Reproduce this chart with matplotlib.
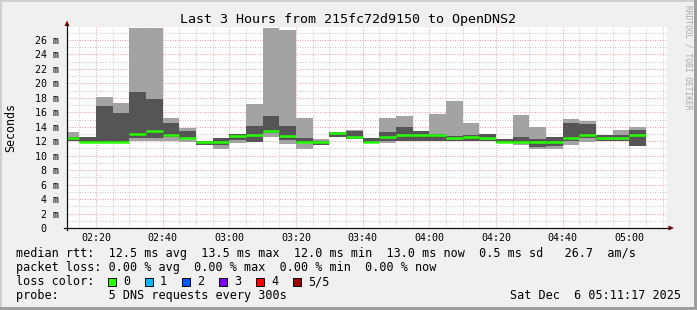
import matplotlib
matplotlib.use("Agg")
import matplotlib.pyplot as plt
import matplotlib.patches as mpatches
from matplotlib.lines import Line2D
from matplotlib.ticker import MultipleLocator, FuncFormatter
import numpy as np

# --- Chart text and data ---
title = "Last 3 Hours from 215fc72d9150 to OpenDNS2"
view_start = "02:11:17"
view_minutes = 180
first_bin = "02:10"
bin_minutes = 5

# 5 pings per step: outer smoke (light), inner smoke (dark), median (green)
light_lo = [12.0, 11.9, 11.85, 11.85, 12.1, 12.1, 12.0, 11.95, 11.45, 10.95,
            11.7, 11.9, 12.6, 11.65, 10.95, 11.5, 12.6, 12.3, 11.7, 11.7,
            12.0, 12.0, 12.0, 12.0, 12.0, 12.0, 11.8, 11.5, 10.95, 10.95,
            11.5, 11.95, 12.0, 12.0, 11.4]
dark_lo = [12.0, 11.9, 11.9, 11.9, 12.4, 12.4, 12.6, 12.3, 11.5, 11.45,
           12.15, 11.95, 13.15, 12.2, 11.7, 11.5, 12.65, 12.35, 11.7, 12.0,
           12.05, 12.05, 12.05, 12.05, 12.05, 12.05, 11.8, 11.8, 11.25, 11.35,
           12.05, 12.5, 12.05, 12.1, 11.4]
median = [12.4, 11.95, 11.95, 11.95, 13.0, 13.35, 12.9, 12.5, 11.85, 11.9,
          12.75, 12.9, 13.45, 12.75, 11.95, 11.9, 13.1, 12.65, 11.9, 12.65,
          12.9, 12.9, 12.9, 12.4, 12.65, 12.4, 11.9, 11.9, 11.9, 11.9,
          12.5, 12.9, 12.4, 12.5, 12.9]
dark_hi = [12.6, 12.55, 16.9, 15.95, 18.8, 17.85, 14.5, 13.45, 12.05, 12.5,
           12.95, 14.15, 15.5, 14.1, 12.5, 12.1, 13.25, 13.45, 12.5, 13.3,
           14.0, 13.4, 13.0, 12.7, 12.85, 12.95, 12.3, 12.6, 12.35, 12.55,
           14.55, 14.4, 12.85, 12.85, 13.55]
light_hi = [13.3, 12.6, 18.1, 17.3, 27.7, 27.7, 15.25, 13.85, 12.1, 12.5,
            13.0, 17.15, 27.7, 27.4, 15.2, 12.3, 13.3, 13.5, 12.5, 15.2,
            15.5, 13.45, 15.75, 17.6, 14.55, 12.95, 12.3, 15.65, 14.0, 12.6,
            15.05, 14.8, 12.85, 13.55, 13.95]

y_ticks = list(range(0, 27, 2))
y_label = "Seconds"

stats_lines = [
    "median rtt:  12.5 ms avg  13.5 ms max  12.0 ms min  13.0 ms now  0.5 ms sd   26.7  am/s",
    "packet loss: 0.00 % avg  0.00 % max  0.00 % min  0.00 % now",
]
loss_title = "loss color:"
loss_labels = ["0", "1", "2", "3", "4", "5/5"]
loss_colors = ["#26ff00", "#00b8ff", "#0059ff", "#7e00ff", "#ff0000", "#a10000"]
probe_line = "probe:       5 DNS requests every 300s"
stamp = "Sat Dec  6 05:11:17 2025"
watermark = "RRDTOOL / TOBI OETIKER"

# --- Styling ---
W, H = 697, 310
BACK = "#f0f0f0"
LIGHT = "#a3a3a3"
DARK = "#555555"
GREEN = "#26ff00"
MONO = "DejaVu Sans Mono"


def to_min(s):
    parts = [int(p) for p in s.split(":")]
    return parts[0] * 60 + parts[1] + (parts[2] / 60 if len(parts) > 2 else 0)


def fx(x):
    return x / W


def fy(y):
    return 1 - y / H


x0 = to_min(view_start)
starts = to_min(first_bin) + bin_minutes * np.arange(len(median))

fig = plt.figure(figsize=(W / 100, H / 100), dpi=100, facecolor=BACK)

# 3D frame of the rrdtool canvas
fig.add_artist(mpatches.Rectangle((0, fy(2)), 1, 2 / H, transform=fig.transFigure, color="#cfcfcf", lw=0))
fig.add_artist(mpatches.Rectangle((0, 0), 2 / W, 1, transform=fig.transFigure, color="#cfcfcf", lw=0))
fig.add_artist(mpatches.Rectangle((fx(694), 0), 3 / W, 1, transform=fig.transFigure, color="#9e9e9e", lw=0))
fig.add_artist(mpatches.Rectangle((0, 0), 1, 3 / H, transform=fig.transFigure, color="#9e9e9e", lw=0))

ax = fig.add_axes([fx(67), fy(228), 600 / W, 201 / H])
ax.set_facecolor("white")

ll = np.array(light_lo)
dl = np.array(dark_lo)
ax.bar(starts, np.array(light_hi) - ll, bottom=ll, width=bin_minutes, align="edge",
       color=LIGHT, linewidth=0, zorder=2)
ax.bar(starts, np.array(dark_hi) - dl, bottom=dl, width=bin_minutes, align="edge",
       color=DARK, linewidth=0, zorder=3)
ax.hlines(median, starts, starts + bin_minutes, colors=GREEN, lw=1.8, zorder=4)

ax.set_xlim(x0, x0 + view_minutes)
ax.set_ylim(0, 27.8)

ax.xaxis.set_major_locator(MultipleLocator(20))
ax.xaxis.set_minor_locator(MultipleLocator(5))
ax.yaxis.set_major_locator(MultipleLocator(2))
ax.yaxis.set_minor_locator(MultipleLocator(1))
ax.xaxis.set_major_formatter(FuncFormatter(lambda v, p: "%02d:%02d" % (int(v) // 60, int(v) % 60)))
ax.set_yticks(y_ticks)
ax.set_yticklabels([("%d m" % t) if t else "0  " for t in y_ticks])

ax.grid(which="minor", color="#cccccc", lw=0.75, linestyle=(0, (1, 1.4)))
ax.grid(which="major", color="#eea4a4", lw=0.75, linestyle=(0, (1, 1.4)))
ax.set_axisbelow(True)

ax.tick_params(which="both", length=0)
ax.tick_params(axis="x", pad=3.5, labelsize=7.2)
ax.tick_params(axis="y", pad=5.5, labelsize=7.2)
for lab in ax.get_xticklabels() + ax.get_yticklabels():
    lab.set_fontfamily(MONO)

for s in ax.spines.values():
    s.set_visible(False)

# axes with arrows, as rrdtool draws them
fig.add_artist(Line2D([fx(67), fx(67)], [fy(230), fy(24)], transform=fig.transFigure, color="#101010", lw=0.9))
fig.add_artist(Line2D([fx(64), fx(670)], [fy(228), fy(228)], transform=fig.transFigure, color="#101010", lw=0.9))
fig.add_artist(mpatches.Polygon([(fx(64.5), fy(26)), (fx(69.5), fy(26)), (fx(67), fy(20.5))],
                                transform=fig.transFigure, color="#8b0000", lw=0))
fig.add_artist(mpatches.Polygon([(fx(668.5), fy(225.5)), (fx(668.5), fy(230.5)), (fx(674), fy(228))],
                                transform=fig.transFigure, color="#8b0000", lw=0))

# texts
fig.text(fx(348), fy(19), title, family=MONO, fontsize=9.6, ha="center", va="center")
fig.text(fx(11), fy(128), y_label, family=MONO, fontsize=8.4, rotation=90, ha="center", va="center")
fig.text(fx(688), fy(5), watermark, family=MONO, fontsize=5.7, rotation=270, ha="center", va="top",
         color="#a8a8a8")

row_y = [254, 267.7, 281.7, 295.7]
for y, line in zip(row_y, stats_lines):
    fig.text(fx(16), fy(y), line, family=MONO, fontsize=8.5, ha="left", va="center")

fig.text(fx(16), fy(row_y[2]), loss_title, family=MONO, fontsize=8.5, ha="left", va="center")
box_x = 108
for lab, col in zip(loss_labels, loss_colors):
    fig.add_artist(mpatches.Rectangle((fx(box_x), fy(286)), 8 / W, 8 / H, transform=fig.transFigure,
                                      facecolor=col, edgecolor="black", lw=0.7))
    fig.text(fx(box_x + 15), fy(row_y[2]), lab, family=MONO, fontsize=8.5, ha="left", va="center")
    box_x += 37

fig.text(fx(16), fy(row_y[3]), probe_line, family=MONO, fontsize=8.5, ha="left", va="center")
fig.text(fx(681), fy(row_y[3]), stamp, family=MONO, fontsize=8.5, ha="right", va="center")

fig.savefig("out.png", dpi=100, facecolor=BACK)
